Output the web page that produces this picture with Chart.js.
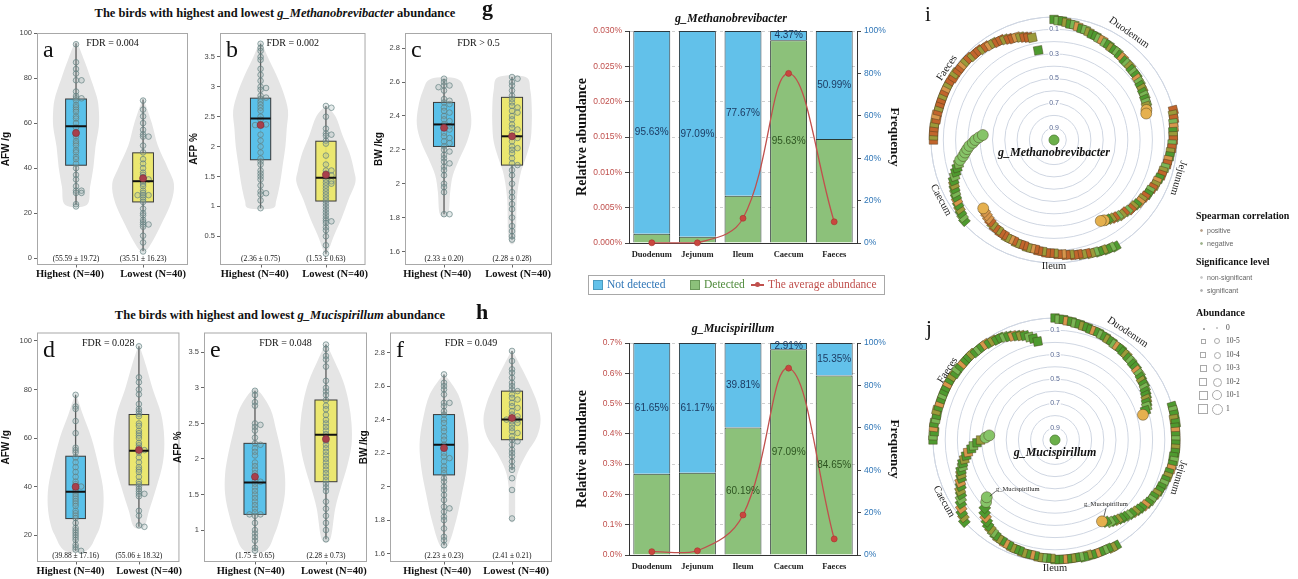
<!DOCTYPE html>
<html><head><meta charset="utf-8">
<script src="https://cdn.jsdelivr.net/npm/chart.js@4/dist/chart.umd.min.js"></script>
<style>
html,body{margin:0;padding:0;background:#fff;overflow:hidden}
#root{position:relative;width:1298px;height:579px;background:#fff;overflow:hidden}
#root canvas{position:absolute}
.tx{position:absolute;white-space:nowrap;font-family:'Liberation Serif','DejaVu Serif',serif;color:#111;z-index:5;line-height:1}
.sm{font-family:'Liberation Sans','DejaVu Sans',sans-serif;font-size:7px;color:#666}
.bx{position:absolute;z-index:5;box-sizing:border-box}
</style></head><body><div id="root">
<div class="tx" style="left:275px;top:7px;transform:translateX(-50%);font-size:12.5px;font-weight:bold">The birds with highest and lowest <i>g_Methanobrevibacter</i> abundance</div>
<div class="tx" style="left:280px;top:309px;transform:translateX(-50%);font-size:12.5px;font-weight:bold">The birds with highest and lowest <i>g_Mucispirillum</i> abundance</div>
<div class="tx" style="left:482px;top:-3px;font-size:22px;font-weight:bold">g</div>
<div class="tx" style="left:476px;top:301px;font-size:22px;font-weight:bold">h</div>
<div class="tx" style="left:731px;top:12px;transform:translateX(-50%);font-size:12px;font-weight:bold;font-style:italic">g_Methanobrevibacter</div>
<div class="tx" style="left:733px;top:322px;transform:translateX(-50%);font-size:12px;font-weight:bold;font-style:italic">g_Mucispirillum</div>
<div class="tx" style="left:925px;top:4px;font-size:21px">i</div>
<div class="tx" style="left:926px;top:318px;font-size:21px">j</div>
<div class="bx" style="left:588px;top:275px;width:297px;height:20px;border:1px solid #a8a8a8"></div>
<div class="bx" style="left:593px;top:280px;width:10px;height:10px;background:#62c1ea;border:1px solid #4a9bbf"></div>
<div class="tx" style="left:607px;top:279px;font-size:11.5px;color:#2e75b6">Not detected</div>
<div class="bx" style="left:690px;top:280px;width:10px;height:10px;background:#8cc17a;border:1px solid #6a9a5a"></div>
<div class="tx" style="left:704px;top:279px;font-size:11.5px;color:#4e8a3a">Detected</div>
<div class="bx" style="left:751px;top:284px;width:13px;height:1.5px;background:#c0504d"></div>
<div class="bx" style="left:755px;top:282px;width:5px;height:5px;border-radius:50%;background:#c0504d"></div>
<div class="tx" style="left:768px;top:279px;font-size:11.5px;color:#c0504d">The average abundance</div>
</div>
<script>
// ---------------- DATA ----------------
const groupLabels = ['Highest (N=40)', 'Lowest (N=40)'];
// panel a (AFW /g, g_Methanobrevibacter)
const aHighDots = [95,87,84,82,79,79,74,72,71,71,70,68,67,66,65,63,62,60,58,56,55,54,52,51,50,48,47,45,44,42,40,37,35,32,30,30,29,29,24,23];
const aLowDots = [70,66,63,60,57,55,54,54,50,47,44,42,40,38,37,36,35,35,34,33,32,30,29,28,28,28,27,26,25,22,20,19,17,16,15,15,14,10,7,3];
const aHighBox = [23.6, 41.3, 58.6, 70.7, 95.4];
const aLowBox = [3.2, 25.0, 34.2, 46.8, 70.5];
const aMeans = [55.59, 35.51];
const aSDs = [19.72, 16.23];
const aHighVioY = [95.4, 88, 80.6, 71.7, 65.8, 58.4, 49.5, 40.6, 31.7, 23.6];
const aHighVioW = [0.02, 0.12, 0.21, 0.31, 0.34, 0.34, 0.29, 0.26, 0.21, 0.16];
const aLowVioY = [70.5, 60, 50, 40, 33, 25, 15, 8, 3.2];
const aLowVioW = [0.01, 0.13, 0.22, 0.37, 0.46, 0.42, 0.27, 0.15, 0.04];
// panel b (AFP %)
const bHighDots = [3.72,3.65,3.6,3.5,3.45,3.3,3.2,3.1,3.0,2.98,2.95,2.85,2.82,2.8,2.75,2.7,2.65,2.6,2.5,2.45,2.38,2.37,2.36,2.2,2.1,2.0,1.9,1.8,1.75,1.7,1.6,1.55,1.5,1.45,1.35,1.25,1.22,1.2,1.1,0.97];
const bLowDots = [2.68,2.65,2.5,2.3,2.22,2.2,2.18,2.1,2.05,1.85,1.7,1.6,1.6,1.55,1.52,1.5,1.45,1.42,1.4,1.38,1.35,1.3,1.25,1.2,1.15,1.1,1.05,1.0,0.95,0.9,0.85,0.8,0.76,0.75,0.72,0.65,0.6,0.5,0.35,0.21];
const bHighBox = [0.97, 1.78, 2.47, 2.81, 3.72];
const bLowBox = [0.21, 1.09, 1.48, 2.09, 2.68];
const bMeans = [2.36, 1.53];
const bSDs = [0.75, 0.63];
const bHighVioY = [3.72, 3.5, 3.2, 2.9, 2.6, 2.3, 2.0, 1.7, 1.4, 1.1, 0.97];
const bHighVioW = [0.02, 0.11, 0.24, 0.35, 0.42, 0.40, 0.38, 0.34, 0.30, 0.24, 0.18];
const bLowVioY = [2.68, 2.5, 2.2, 1.9, 1.6, 1.4, 1.1, 0.8, 0.5, 0.21];
const bLowVioW = [0.01, 0.15, 0.25, 0.36, 0.43, 0.45, 0.34, 0.24, 0.12, 0.02];
// panel c (BW /kg)
const cHighDots = [2.62,2.6,2.58,2.58,2.57,2.55,2.5,2.49,2.48,2.47,2.45,2.43,2.42,2.4,2.38,2.37,2.35,2.34,2.33,2.32,2.3,2.28,2.27,2.25,2.24,2.22,2.2,2.19,2.17,2.15,2.13,2.12,2.1,2.08,2.05,2.0,1.98,1.95,1.82,1.82];
const cLowDots = [2.63,2.62,2.6,2.58,2.55,2.52,2.5,2.48,2.46,2.45,2.43,2.42,2.4,2.38,2.35,2.33,2.32,2.3,2.28,2.27,2.25,2.22,2.21,2.2,2.18,2.15,2.12,2.11,2.08,2.05,2.0,1.95,1.92,1.88,1.85,1.8,1.75,1.72,1.69,1.67];
const cHighBox = [1.82, 2.22, 2.35, 2.48, 2.62];
const cLowBox = [1.67, 2.11, 2.28, 2.51, 2.63];
const cMeans = [2.33, 2.28];
const cSDs = [0.20, 0.28];
const cHighVioY = [2.62, 2.55, 2.45, 2.35, 2.25, 2.15, 2.05, 1.95, 1.82];
const cHighVioW = [0.19, 0.31, 0.38, 0.40, 0.34, 0.23, 0.13, 0.09, 0.06];
const cLowVioY = [2.63, 2.55, 2.45, 2.35, 2.25, 2.15, 2.05, 1.9, 1.67];
const cLowVioW = [0.2, 0.27, 0.29, 0.29, 0.27, 0.2, 0.12, 0.07, 0.05];
// panel d (AFW /g, g_Mucispirillum)
const dHighDots = [77.8,73,72,67,62,56,55,54,52,50,48,46,44,42,41,40,40,39,38,37,36,35,34,33,32,30,29,28,27,25,23,22,21,20,19,18,16,15,14,13.5];
const dLowDots = [97.8,85,83,80,78,74,72,71,70,69,66,65,63,62,61,60,58,57,56,55,55,54,52,50,48,47,46,44,42,41,40,39,38,37,37,36,30,28,24,23.4];
const dHighBox = [13.5, 26.8, 37.9, 52.5, 77.8];
const dLowBox = [23.4, 40.7, 54.8, 69.7, 97.8];
const dMeans = [39.88, 55.06];
const dSDs = [17.16, 18.32];
const dHighVioY = [77.8, 70, 60, 50, 40, 32, 25, 20, 13.5];
const dHighVioW = [0.01, 0.11, 0.25, 0.35, 0.43, 0.44, 0.40, 0.33, 0.17];
const dLowVioY = [97.8, 90, 80, 70, 60, 50, 40, 30, 23.4];
const dLowVioW = [0.01, 0.11, 0.22, 0.35, 0.40, 0.38, 0.28, 0.16, 0.08];
// panel e (AFP %)
const eHighDots = [2.96,2.9,2.8,2.75,2.5,2.48,2.45,2.4,2.3,2.22,2.2,2.15,2.1,2.05,1.95,1.9,1.85,1.8,1.75,1.7,1.68,1.65,1.6,1.55,1.5,1.45,1.4,1.35,1.3,1.25,1.22,1.22,1.2,1.1,1.0,0.95,0.9,0.85,0.75,0.71];
const eLowDots = [3.61,3.55,3.45,3.4,3.3,3.1,3.0,2.95,2.9,2.83,2.75,2.7,2.62,2.55,2.5,2.45,2.4,2.35,2.3,2.25,2.2,2.15,2.1,2.05,2.0,1.95,1.9,1.85,1.8,1.75,1.7,1.65,1.6,1.55,1.4,1.3,1.2,1.1,1.0,0.87];
const eHighBox = [0.71, 1.22, 1.67, 2.22, 2.96];
const eLowBox = [0.87, 1.68, 2.34, 2.83, 3.61];
const eMeans = [1.75, 2.28];
const eSDs = [0.65, 0.73];
const eHighVioY = [2.96, 2.7, 2.4, 2.1, 1.8, 1.5, 1.2, 0.95, 0.71];
const eHighVioW = [0.05, 0.22, 0.30, 0.37, 0.42, 0.42, 0.36, 0.28, 0.15];
const eLowVioY = [3.61, 3.4, 3.1, 2.8, 2.5, 2.2, 1.9, 1.6, 1.3, 0.87];
const eLowVioW = [0.01, 0.11, 0.24, 0.32, 0.36, 0.36, 0.30, 0.21, 0.13, 0.06];
// panel f (BW /kg)
const fHighDots = [2.67,2.62,2.6,2.58,2.55,2.5,2.5,2.48,2.45,2.43,2.4,2.38,2.35,2.33,2.3,2.28,2.25,2.23,2.2,2.18,2.17,2.15,2.12,2.1,2.08,2.05,2.03,2.0,1.98,1.95,1.92,1.88,1.87,1.85,1.82,1.8,1.75,1.7,1.68,1.65];
const fLowDots = [2.81,2.75,2.7,2.68,2.65,2.62,2.6,2.58,2.57,2.55,2.53,2.52,2.5,2.48,2.47,2.45,2.43,2.42,2.41,2.4,2.4,2.39,2.38,2.37,2.35,2.33,2.32,2.3,2.28,2.27,2.25,2.22,2.2,2.18,2.15,2.12,2.1,2.05,1.98,1.81];
const fHighBox = [1.65, 2.07, 2.25, 2.43, 2.67];
const fLowBox = [2.1, 2.28, 2.40, 2.57, 2.81];
const fMeans = [2.23, 2.41];
const fSDs = [0.23, 0.21];
const fHighVioY = [2.67, 2.55, 2.4, 2.25, 2.1, 1.95, 1.8, 1.65];
const fHighVioW = [0.01, 0.21, 0.31, 0.36, 0.33, 0.26, 0.18, 0.06];
const fLowVioY = [2.81, 2.7, 2.6, 2.5, 2.4, 2.3, 2.2, 2.1, 2.0, 1.81];
const fLowVioW = [0.01, 0.15, 0.27, 0.37, 0.42, 0.37, 0.22, 0.10, 0.05, 0.04];

// panels g / h
const tissues = ['Duodenum', 'Jejunum', 'Ileum', 'Caecum', 'Faeces'];
const gDetected = [4.37, 2.91, 22.33, 95.63, 49.01];
const gNotDetected = [95.63, 97.09, 77.67, 4.37, 50.99];
const gAbundance = [0.00003, 0.00002, 0.0035, 0.024, 0.003];
const gDetLabels = ['', '', '', '95.63%', ''];
const gNotLabels = ['95.63%', '97.09%', '77.67%', '4.37%', '50.99%'];
const hDetected = [38.35, 38.83, 60.19, 97.09, 84.65];
const hNotDetected = [61.65, 61.17, 39.81, 2.91, 15.35];
const hAbundance = [0.011, 0.014, 0.132, 0.617, 0.053];
const hDetLabels = ['', '', '60.19%', '97.09%', '84.65%'];
const hNotLabels = ['61.65%', '61.17%', '39.81%', '2.91%', '15.35%'];

// panels i / j : spiral values (0 = outer ring), start slot (2 degrees each), category codes
const iStarts = [0, 38, 75, 114, 135];
const iDuo = [0.02,0.03,0.03,0.04,0.05,0.05,0.06,0.07,0.07,0.08,0.09,0.09,0.10,0.10,0.11,0.11,0.12,0.12,0.12,0.13,0.13,0.14,0.14,0.14,0.15,0.15,0.15,0.16,0.16,0.17,0.17,0.18,0.18,0.19,0.19,0.20,0.21,0.22];
const iJej = [0.00,0.01,0.01,0.02,0.02,0.03,0.03,0.03,0.04,0.04,0.05,0.05,0.06,0.06,0.07,0.08,0.08,0.09,0.10,0.10,0.11,0.12,0.12,0.13,0.14,0.14,0.15,0.16,0.16,0.17,0.18,0.18,0.19,0.20,0.21,0.22,0.23,0.24];
const iIle = [0.00,0.01,0.01,0.02,0.02,0.03,0.03,0.04,0.04,0.05,0.05,0.06,0.06,0.07,0.07,0.08,0.08,0.08,0.09,0.09,0.10,0.10,0.10,0.11,0.11,0.11,0.12,0.12,0.12,0.13,0.13,0.14,0.14,0.15,0.16,0.17,0.18,0.19,0.20];
const iCae = [0.02,0.03,0.04,0.05,0.06,0.07,0.08,0.09,0.10,0.11,0.12,0.14,0.16,0.18,0.20,0.22,0.25,0.27,0.29,0.31,0.34,0.36,0.39,0.42];
const iFae = [0.02,0.02,0.02,0.02,0.02,0.03,0.02,0.03,0.03,0.03,0.03,0.03,0.03,0.03,0.03,0.03,0.04,0.03,0.04,0.04,0.04,0.04,0.04,0.05,0.05,0.05,0.06,0.06,0.07,0.07,0.08,0.08,0.09,0.10,0.11,0.11,0.12,0.13,0.14,0.15,0.26];
const iCodes = ['NnNoNnpNnoNNnpnNoNnNpNnoNnNpnNoNnNnoyy', 'PoPnpNoPnPoNpPnoPNpoPnNPopNoPnPonPoNyy', 'NnNoNnoPoPPoPpPoPPoPPpoPPoPpoPPoPoPpppy', 'NnNoNpNnNoNnNNnggggggggg', 'PoPPoPpPoPPoPpoPPoPPpoPoPPoPpoPPoPPpoPPoN'];
const iCircles = [2, 2, 1, 9, 0];
const jStarts = [0, 37, 75, 114, 135];
const jDuo = [0.00,0.01,0.01,0.02,0.02,0.03,0.03,0.04,0.04,0.05,0.05,0.05,0.06,0.06,0.07,0.07,0.08,0.08,0.08,0.09,0.09,0.10,0.10,0.11,0.11,0.12,0.12,0.13,0.14,0.14,0.15,0.16,0.17,0.18,0.19,0.20,0.22,0.25];
const jJej = [0.00,0.00,0.00,0.01,0.00,0.01,0.01,0.01,0.01,0.01,0.01,0.01,0.02,0.01,0.02,0.02,0.03,0.03,0.04,0.04,0.05,0.05,0.06,0.07,0.07,0.08,0.09,0.10,0.11,0.12,0.13,0.14,0.15,0.16,0.17,0.18,0.19,0.21,0.23];
const jIle = [0.00,0.00,0.01,0.01,0.01,0.01,0.01,0.02,0.01,0.02,0.02,0.02,0.02,0.02,0.02,0.02,0.03,0.03,0.03,0.03,0.04,0.04,0.04,0.04,0.05,0.05,0.05,0.06,0.06,0.07,0.07,0.08,0.09,0.10,0.11,0.13,0.15,0.17,0.20,0.24,0.27];
const jCae = [0.00,0.02,0.03,0.05,0.07,0.09,0.11,0.12,0.14,0.15,0.17,0.18,0.19,0.21,0.22,0.24,0.26,0.28,0.31,0.33,0.36,0.39,0.43,0.46];
const jFae = [0.00,0.00,0.01,0.00,0.00,0.01,0.01,0.00,0.01,0.01,0.01,0.01,0.01,0.01,0.01,0.01,0.01,0.02,0.01,0.02,0.02,0.02,0.02,0.02,0.03,0.03,0.03,0.03,0.04,0.04,0.05,0.05,0.06,0.07,0.08,0.09,0.10,0.11,0.13,0.15,0.18];
const jCodes = ['NnNpNnNoNNpNnNoNnpNNoNnNNpnNoNnNNoNnNy', 'NnNoNNpNnNoNNnNpNoNnNNoNnNpNNoNnNNoNnNy', 'NoNnNpNoNnNoNpNNoNnoNpNoNNoNpNoNnoNNpNNgg', 'NoNpNnNoNpNoNnNoNpNnNogg', 'NnNpNnNoNpNnNNpNoNnNpNNoNnNpNoNNnNpNoNnNN'];
const jCircles = [1, 1, 2, 2, 0];
const radialTicks = [0.1, 0.3, 0.5, 0.7, 0.9];
const abundanceLegend = ['0', '10-5', '10-4', '10-3', '10-2', '10-1', '1'];

// ---------------- RENDER ----------------
const SERIF = "'Liberation Serif','DejaVu Serif',serif";
const SANS = "'Liberation Sans','DejaVu Sans',sans-serif";
Chart.defaults.font.family = SANS;
Chart.defaults.color = '#333';
const root = document.getElementById('root');
function mk(left, top, w, h) {
  const c = document.createElement('canvas');
  c.width = w; c.height = h;
  c.style.left = left + 'px'; c.style.top = top + 'px';
  c.style.width = w + 'px'; c.style.height = h + 'px';
  root.appendChild(c);
  return c;
}
function smoothClosed(ctx, pts) {
  const n = pts.length, t = 1 / 6;
  ctx.moveTo(pts[0][0], pts[0][1]);
  for (let i = 0; i < n; i++) {
    const p0 = pts[(i - 1 + n) % n], p1 = pts[i], p2 = pts[(i + 1) % n], p3 = pts[(i + 2) % n];
    ctx.bezierCurveTo(p1[0] + (p2[0] - p0[0]) * t, p1[1] + (p2[1] - p0[1]) * t,
                      p2[0] - (p3[0] - p1[0]) * t, p2[1] - (p3[1] - p1[1]) * t, p2[0], p2[1]);
  }
  ctx.closePath();
}
function swarm(xs, ys, xv, vals) {
  const px = xs.getPixelForValue(xv);
  const placed = [];
  vals.slice().sort((a, b) => b - a).forEach(v => {
    const py = ys.getPixelForValue(v);
    const offs = [0, 5.5, -5.5, 11, -11, 16.5, -16.5];
    let o = 0;
    for (const c of offs) {
      if (!placed.some(q => Math.abs(q[1] - py) < 2.2 && Math.abs(q[0] - (px + c)) < 5)) { o = c; break; }
    }
    placed.push([px + o, py]);
  });
  return placed;
}
const BOXCOL = ['rgba(78,190,234,0.92)', 'rgba(236,231,102,0.92)'];
function violinPanel(p) {
  const cv = mk(p.L, p.T, p.W, p.H);
  const plug = {
    id: 'vio' + p.letter,
    beforeDatasetsDraw(chart) {
      const {ctx, chartArea: ca} = chart;
      const xs = chart.scales.x, ys = chart.scales.y;
      ctx.save();
      ctx.beginPath(); ctx.rect(ca.left, ca.top, ca.right - ca.left, ca.bottom - ca.top); ctx.clip();
      p.groups.forEach((g, k) => {
        const xv = k + 1, pts = [];
        g.vy.forEach((v, i) => pts.push([xs.getPixelForValue(xv + g.vw[i]), ys.getPixelForValue(v)]));
        for (let i = g.vy.length - 1; i >= 0; i--) pts.push([xs.getPixelForValue(xv - g.vw[i]), ys.getPixelForValue(g.vy[i])]);
        ctx.beginPath(); smoothClosed(ctx, pts); ctx.fillStyle = '#e5e5e5'; ctx.fill();
      });
      p.groups.forEach((g, k) => {
        const xv = k + 1, cx = xs.getPixelForValue(xv), b = g.box;
        ctx.strokeStyle = '#5a5a5a'; ctx.lineWidth = 1.3;
        ctx.beginPath(); ctx.moveTo(cx, ys.getPixelForValue(b[0])); ctx.lineTo(cx, ys.getPixelForValue(b[4])); ctx.stroke();
        const x0 = xs.getPixelForValue(xv - 0.155), x1 = xs.getPixelForValue(xv + 0.155);
        const y1 = ys.getPixelForValue(b[1]), y3 = ys.getPixelForValue(b[3]);
        ctx.fillStyle = BOXCOL[k]; ctx.fillRect(x0, y3, x1 - x0, y1 - y3);
        ctx.strokeStyle = '#3a3a3a'; ctx.lineWidth = 1; ctx.strokeRect(x0, y3, x1 - x0, y1 - y3);
        swarm(xs, ys, xv, g.dots).forEach(([dx, dy]) => {
          ctx.beginPath(); ctx.arc(dx, dy, 2.8, 0, Math.PI * 2);
          ctx.fillStyle = 'rgba(150,175,175,0.25)'; ctx.fill();
          ctx.strokeStyle = 'rgba(95,125,125,0.75)'; ctx.lineWidth = 0.9; ctx.stroke();
        });
        const ym = ys.getPixelForValue(b[2]);
        ctx.strokeStyle = '#111'; ctx.lineWidth = 2;
        ctx.beginPath(); ctx.moveTo(x0, ym); ctx.lineTo(x1, ym); ctx.stroke();
      });
      ctx.restore();
    },
    afterDraw(chart) {
      const {ctx, chartArea: ca} = chart;
      const xs = chart.scales.x;
      ctx.save();
      ctx.strokeStyle = '#a8a8a8'; ctx.lineWidth = 1;
      ctx.strokeRect(ca.left + 0.5, ca.top + 0.5, ca.right - ca.left - 1, ca.bottom - ca.top - 1);
      ctx.strokeStyle = '#666';
      [1, 2].forEach(v => { const x = Math.round(xs.getPixelForValue(v)) + 0.5; ctx.beginPath(); ctx.moveTo(x, ca.bottom); ctx.lineTo(x, ca.bottom + 2.5); ctx.stroke(); });
      ctx.fillStyle = '#111'; ctx.textBaseline = 'alphabetic';
      ctx.font = '24px ' + SERIF; ctx.textAlign = 'left';
      ctx.fillText(p.letter, ca.left + 6, ca.top + 24);
      ctx.font = '10px ' + SERIF; ctx.textAlign = 'center';
      ctx.fillText(p.fdr, (ca.left + ca.right) / 2, ca.top + 13);
      ctx.font = '7.5px ' + SERIF;
      p.groups.forEach((g, k) => {
        ctx.fillText('(' + g.mean.toFixed(2) + ' \u00b1 ' + g.sd.toFixed(2) + ')', xs.getPixelForValue(k + 1), ca.bottom - 4);
      });
      ctx.restore();
    }
  };
  new Chart(cv, {
    type: 'scatter',
    data: {datasets: [{data: p.groups.map((g, k) => ({x: k + 1, y: g.mean})), pointRadius: 3.5,
      pointBackgroundColor: '#a8404c', pointBorderColor: '#7a2a35', pointBorderWidth: 0.6}]},
    options: {
      responsive: false, animation: false, devicePixelRatio: 1, events: [],
      layout: {padding: {left: 0, top: p.pt, right: p.pr, bottom: 0}},
      plugins: {legend: {display: false}, tooltip: {enabled: false}},
      scales: {
        x: {type: 'linear', min: p.xmin, max: p.xmax,
          afterFit: s => { s.height = p.xH; },
          afterBuildTicks: s => { s.ticks = p.labelAt.map(v => ({value: v})); },
          ticks: {callback: (v, i) => groupLabels[i], font: {family: SERIF, size: 10.5, weight: 'bold'}, color: '#111', maxRotation: 0, minRotation: 0, autoSkip: false, padding: 3},
          grid: {display: false, drawTicks: false, tickLength: 0}, border: {display: false}},
        y: {min: p.ymin, max: p.ymax,
          afterFit: s => { s.width = p.yW; },
          ticks: {stepSize: p.ystep, includeBounds: false, font: {size: 7.5}, color: '#444', padding: 2, callback: v => String(+v.toFixed(2))},
          grid: {drawOnChartArea: false, tickLength: 3, color: '#666'}, border: {display: false},
          title: {display: true, text: p.yTitle, font: {size: 10, weight: 'bold'}, color: '#111', padding: {top: 0, bottom: 1}}}
      }
    },
    plugins: [plug]
  });
}
function grp(dots, box, mean, sd, vy, vw) { return {dots, box, mean, sd, vy, vw}; }
violinPanel({letter: 'a', fdr: 'FDR = 0.004', yTitle: 'AFW /g', L: 0, T: 26, W: 195, H: 264, pt: 7, pr: 7, yW: 37, xH: 25, xmin: 0.418, xmax: 2.67, ymin: -3, ymax: 100, ystep: 20, labelAt: [0.91, 2.15],
  groups: [grp(aHighDots, aHighBox, aMeans[0], aSDs[0], aHighVioY, aHighVioW), grp(aLowDots, aLowBox, aMeans[1], aSDs[1], aLowVioY, aLowVioW)]});
violinPanel({letter: 'b', fdr: 'FDR = 0.002', yTitle: 'AFP %', L: 188, T: 26, W: 184, H: 264, pt: 7, pr: 5, yW: 32, xH: 25, xmin: 0.379, xmax: 2.606, ymin: 0.02, ymax: 3.9, ystep: 0.5, labelAt: [0.91, 2.14],
  groups: [grp(bHighDots, bHighBox, bMeans[0], bSDs[0], bHighVioY, bHighVioW), grp(bLowDots, bLowBox, bMeans[1], bSDs[1], bLowVioY, bLowVioW)]});
violinPanel({letter: 'c', fdr: 'FDR > 0.5', yTitle: 'BW /kg', L: 373, T: 26, W: 184, H: 264, pt: 7, pr: 5, yW: 32, xH: 25, xmin: 0.426, xmax: 2.588, ymin: 1.52, ymax: 2.89, ystep: 0.2, labelAt: [0.9, 2.09],
  groups: [grp(cHighDots, cHighBox, cMeans[0], cSDs[0], cHighVioY, cHighVioW), grp(cLowDots, cLowBox, cMeans[1], cSDs[1], cLowVioY, cLowVioW)]});
violinPanel({letter: 'd', fdr: 'FDR = 0.028', yTitle: 'AFW /g', L: 0, T: 326, W: 186, H: 253, pt: 6, pr: 5, yW: 37, xH: 17, xmin: 0.39, xmax: 2.64, ymin: 8.9, ymax: 103.5, ystep: 20, labelAt: [0.92, 2.16],
  groups: [grp(dHighDots, dHighBox, dMeans[0], dSDs[0], dHighVioY, dHighVioW), grp(dLowDots, dLowBox, dMeans[1], dSDs[1], dLowVioY, dLowVioW)]});
violinPanel({letter: 'e', fdr: 'FDR = 0.048', yTitle: 'AFP %', L: 172, T: 326, W: 200, H: 253, pt: 6, pr: 5, yW: 32, xH: 17, xmin: 0.282, xmax: 2.578, ymin: 0.55, ymax: 3.78, ystep: 0.5, labelAt: [0.94, 2.11],
  groups: [grp(eHighDots, eHighBox, eMeans[0], eSDs[0], eHighVioY, eHighVioW), grp(eLowDots, eLowBox, eMeans[1], eSDs[1], eLowVioY, eLowVioW)]});
violinPanel({letter: 'f', fdr: 'FDR = 0.049', yTitle: 'BW /kg', L: 358, T: 326, W: 199, H: 253, pt: 6, pr: 5, yW: 32, xH: 17, xmin: 0.206, xmax: 2.588, ymin: 1.55, ymax: 2.92, ystep: 0.2, labelAt: [0.9, 2.06],
  groups: [grp(fHighDots, fHighBox, fMeans[0], fSDs[0], fHighVioY, fHighVioW), grp(fLowDots, fLowBox, fMeans[1], fSDs[1], fLowVioY, fLowVioW)]});

// ---- stacked bar + line panels ----
function barPanel(p) {
  const cv = mk(p.L, p.T, p.W, p.H);
  const plug = {
    id: 'lab' + p.T,
    afterDatasetsDraw(chart) {
      const ctx = chart.ctx;
      ctx.save();
      ctx.font = '10px ' + SANS; ctx.textAlign = 'center'; ctx.textBaseline = 'middle';
      [[1, p.detLabels, '#2d5420'], [2, p.notLabels, '#1d3c63']].forEach(([di, labs, col]) => {
        const meta = chart.getDatasetMeta(di);
        meta.data.forEach((el, i) => {
          if (!labs[i]) return;
          const pr = el.getProps(['x', 'y', 'base'], true);
          ctx.fillStyle = col;
          ctx.fillText(labs[i], pr.x, (pr.y + pr.base) / 2);
        });
      });
      ctx.restore();
    }
  };
  new Chart(cv, {
    type: 'bar',
    data: {labels: tissues, datasets: [
      {type: 'line', label: 'The average abundance', data: p.abund, yAxisID: 'y', borderColor: '#c0504d', backgroundColor: '#c0504d',
        pointRadius: 3, pointBackgroundColor: '#c9473f', pointBorderColor: '#a8302c', pointBorderWidth: 0.6, borderWidth: 1.3, tension: 0.4, order: 0, clip: 5},
      {label: 'Detected', data: p.det, yAxisID: 'y2', backgroundColor: '#8cc17a', borderColor: '#2c3a34', borderWidth: 1, stack: 's', order: 1, barPercentage: 0.81, categoryPercentage: 1},
      {label: 'Not detected', data: p.notdet, yAxisID: 'y2', backgroundColor: '#62c1ea', borderColor: '#2c3a40', borderWidth: 1, stack: 's', order: 1, barPercentage: 0.81, categoryPercentage: 1}
    ]},
    options: {
      responsive: false, animation: false, devicePixelRatio: 1, events: [],
      layout: {padding: {left: 104, top: p.pt, right: 8, bottom: 0}},
      plugins: {legend: {display: false}, tooltip: {enabled: false}},
      scales: {
        x: {stacked: true, grid: {display: false, drawTicks: false, tickLength: 0}, border: {color: '#333'}, afterFit: s => { s.height = p.xH; },
          ticks: {font: {family: SERIF, weight: 'bold', size: 8.5}, color: '#222', padding: 7, maxRotation: 0, minRotation: 0, autoSkip: false}},
        y: {position: 'left', min: 0, max: p.ymax, afterFit: s => { s.width = 55; },
          ticks: {stepSize: p.ystep, callback: v => v.toFixed(p.dec) + '%', color: '#c0504d', font: {size: 8.5}, padding: 3},
          grid: {color: '#cfcfcf', tickLength: 4, tickColor: '#444'}, border: {color: '#333', dash: [3, 3]},
          title: {display: true, text: 'Relative abundance', font: {family: SERIF, weight: 'bold', size: 14}, color: '#111', padding: {top: 0, bottom: 2}}},
        y2: {position: 'right', stacked: true, min: 0, max: 100, afterFit: s => { s.width = 45; },
          ticks: {stepSize: 20, callback: v => v + '%', color: '#2e75b6', font: {size: 8.5}, padding: 3},
          grid: {drawOnChartArea: false, tickLength: 4, color: '#444'}, border: {color: '#333'},
          title: {display: true, text: 'Frequency', font: {family: SERIF, weight: 'bold', size: 13}, color: '#111', padding: {top: 0, bottom: 2}}}
      }
    },
    plugins: [plug]
  });
}
barPanel({L: 470, T: 0, W: 440, H: 300, pt: 31, xH: 57, det: gDetected, notdet: gNotDetected, abund: gAbundance, detLabels: gDetLabels, notLabels: gNotLabels, ymax: 0.03, ystep: 0.005, dec: 3});
barPanel({L: 470, T: 300, W: 440, H: 279, pt: 43, xH: 24, det: hDetected, notdet: hNotDetected, abund: hAbundance, detLabels: hDetLabels, notLabels: hNotLabels, ymax: 0.7, ystep: 0.1, dec: 1});

// ---- circular panels ----
const NSLOT = 180;
const COL = {N: '#4e9a2f', n: '#7ab655', P: '#c2652c', p: '#d7964c', o: '#9b9a3a', y: '#e5b04e', g: '#86c468'};
function radarPanel(p) {
  const cv = mk(p.L, p.T, p.W, p.H);
  const labels = Array.from({length: NSLOT}, () => '');
  const rot = labels.map((_, k) => k * 360 / NSLOT);
  const ds = tissues.map((t, ti) => {
    const vals = p.vals[ti], codes = p.codes[ti];
    const data = new Array(NSLOT).fill(null), style = new Array(NSLOT).fill('rect'),
      rad = new Array(NSLOT).fill(6), col = new Array(NSLOT).fill(COL.n);
    vals.forEach((v, i) => {
      const s = (p.starts[ti] + i) % NSLOT;
      data[s] = v;
      col[s] = COL[codes.charAt(i)] || COL.n;
      if (i >= vals.length - p.circ[ti]) { style[s] = 'circle'; rad[s] = 5.5; }
    });
    return {label: t, data, showLine: false, fill: false, borderWidth: 0, borderColor: 'rgba(0,0,0,0)', backgroundColor: 'rgba(0,0,0,0)',
      pointStyle: style, pointRadius: rad, pointBackgroundColor: col, pointBorderColor: 'rgba(70,55,25,0.55)', pointBorderWidth: 0.8, pointRotation: rot, clip: false};
  });
  const cdata = new Array(NSLOT).fill(null); cdata[0] = 1;
  ds.push({label: 'center', data: cdata, showLine: false, fill: false, borderWidth: 0, pointStyle: 'circle', pointRadius: 5,
    pointBackgroundColor: '#6cb04a', pointBorderColor: '#4d7f33', pointBorderWidth: 0.8, clip: false});
  const plug = {
    id: 'circ' + p.T,
    beforeDatasetsDraw(chart) {
      const r = chart.scales.r, ctx = chart.ctx;
      ctx.save(); ctx.strokeStyle = '#cfd6e2'; ctx.lineWidth = 1;
      ctx.beginPath(); ctx.arc(r.xCenter, r.yCenter, r.getDistanceFromCenterForValue(0), 0, Math.PI * 2); ctx.stroke();
      ctx.restore();
    },
    afterDatasetsDraw(chart) {
      const r = chart.scales.r, ctx = chart.ctx;
      ctx.save();
      ctx.fillStyle = '#222'; ctx.textAlign = 'center'; ctx.textBaseline = 'middle';
      ctx.font = '10.5px ' + SERIF;
      tissues.forEach((t, ti) => {
        const slot = p.labelSlots[ti];
        const pos = r.getPointPosition(slot, r.drawingArea + p.labelGap[ti]);
        let deg = slot * 360 / NSLOT;
        if (p.flip[ti]) deg -= 180;
        ctx.save(); ctx.translate(pos.x, pos.y); ctx.rotate(deg * Math.PI / 180);
        ctx.fillText(t, 0, 0); ctx.restore();
      });
      ctx.font = 'bold italic 12px ' + SERIF; ctx.fillStyle = '#111';
      ctx.fillText(p.center, r.xCenter, r.yCenter + 13);
      (p.notes || []).forEach(nt => {
        const meta = chart.getDatasetMeta(nt.ds);
        const el = meta.data[(p.starts[nt.ds] + p.vals[nt.ds].length - 1) % NSLOT];
        const {x, y} = el.getProps(['x', 'y'], true);
        ctx.font = '6.5px ' + SERIF; ctx.fillStyle = '#222';
        ctx.fillText(p.center, x + nt.dx, y + nt.dy);
        ctx.strokeStyle = '#222'; ctx.lineWidth = 0.7;
        ctx.beginPath(); ctx.moveTo(x + nt.ax, y + nt.ay); ctx.lineTo(x + nt.bx, y + nt.by); ctx.stroke();
      });
      ctx.restore();
    }
  };
  new Chart(cv, {
    type: 'radar',
    data: {labels, datasets: ds},
    options: {
      responsive: false, animation: false, devicePixelRatio: 1, events: [],
      layout: {padding: p.pad},
      plugins: {legend: {display: false}, tooltip: {enabled: false}},
      scales: {r: {min: 0, max: 1, reverse: true,
        ticks: {stepSize: 0.1, callback: v => { const k = Math.round(v * 10); return radialTicks.includes(k / 10) ? (k / 10).toFixed(1) : ''; },
          font: {size: 7}, color: '#5b6b95', backdropColor: 'rgba(255,255,255,0.85)', backdropPadding: 1,
          showLabelBackdrop: c => !!(c.tick && radialTicks.includes(Math.round(c.tick.value * 10) / 10))},
        grid: {circular: true, color: '#cfd6e2', lineWidth: 1},
        angleLines: {display: false}, pointLabels: {display: false}}}
    },
    plugins: [plug]
  });
}
radarPanel({L: 900, T: 0, W: 300, H: 300, pad: {left: 27, top: 13, right: 18, bottom: 32}, center: 'g_Methanobrevibacter',
  starts: iStarts, vals: [iDuo, iJej, iIle, iCae, iFae], codes: iCodes, circ: iCircles,
  labelSlots: [17.5, 53.5, 90, 121, 152], flip: [false, false, true, true, false], labelGap: [8, 7, 3, 5, 6]});
radarPanel({L: 900, T: 300, W: 300, H: 279, pad: {left: 29, top: 14, right: 18, bottom: 12}, center: 'g_Mucispirillum',
  starts: jStarts, vals: [jDuo, jJej, jIle, jCae, jFae], codes: jCodes, circ: jCircles,
  labelSlots: [17, 53.5, 90, 120.5, 151.5], flip: [false, false, true, true, false], labelGap: [8, 7, 6, 5, 6],
  notes: [{ds: 1, dx: 4, dy: -17, ax: 4, ay: -13, bx: 2, by: -5}, {ds: 2, dx: 31, dy: -8, ax: 9, ay: -6, bx: 3, by: -1}]});

// ---- right-hand legend (HTML text) ----
function addTx(html, left, cy, cls, style) {
  const d = document.createElement('div');
  d.className = 'tx ' + (cls || '');
  d.style.cssText = 'left:' + left + 'px;top:' + cy + 'px;transform:translateY(-50%);' + (style || '');
  d.innerHTML = html; root.appendChild(d);
}
function addShape(cx, cy, sz, round, fill, stroke) {
  const d = document.createElement('div');
  d.className = 'bx';
  d.style.cssText = 'left:' + (cx - sz / 2) + 'px;top:' + (cy - sz / 2) + 'px;width:' + sz + 'px;height:' + sz + 'px;border:1px solid ' + stroke + ';background:' + fill + ';' + (round ? 'border-radius:50%;' : '');
  root.appendChild(d);
}
addTx('Spearman correlation', 1196, 216, '', 'font-size:10px;font-weight:bold');
addShape(1201, 230, 3, true, '#b7a08a', '#b7a08a'); addTx('positive', 1207, 230, 'sm');
addShape(1201, 243, 3, true, '#9cb08a', '#9cb08a'); addTx('negative', 1207, 243, 'sm');
addTx('Significance level', 1196, 262, '', 'font-size:10px;font-weight:bold');
addShape(1201, 277, 3, true, '#c8c8c8', '#c8c8c8'); addTx('non-significant', 1207, 277, 'sm');
addShape(1201, 290, 3, true, '#b0b0b0', '#b0b0b0'); addTx('significant', 1207, 290, 'sm');
addTx('Abundance', 1196, 313, '', 'font-size:10px;font-weight:bold');
const rowY = [328, 341, 355, 368, 382, 395, 409];
const shapeSz = [1, 5, 6, 7, 8, 9, 10];
abundanceLegend.forEach((t, i) => {
  addShape(1203, rowY[i], shapeSz[i], false, 'transparent', '#aaa');
  addShape(1217, rowY[i], shapeSz[i] + 1, true, 'transparent', '#aaa');
  addTx(t, 1226, rowY[i], '', 'font-size:7.5px;color:#444');
});
</script></body></html>
